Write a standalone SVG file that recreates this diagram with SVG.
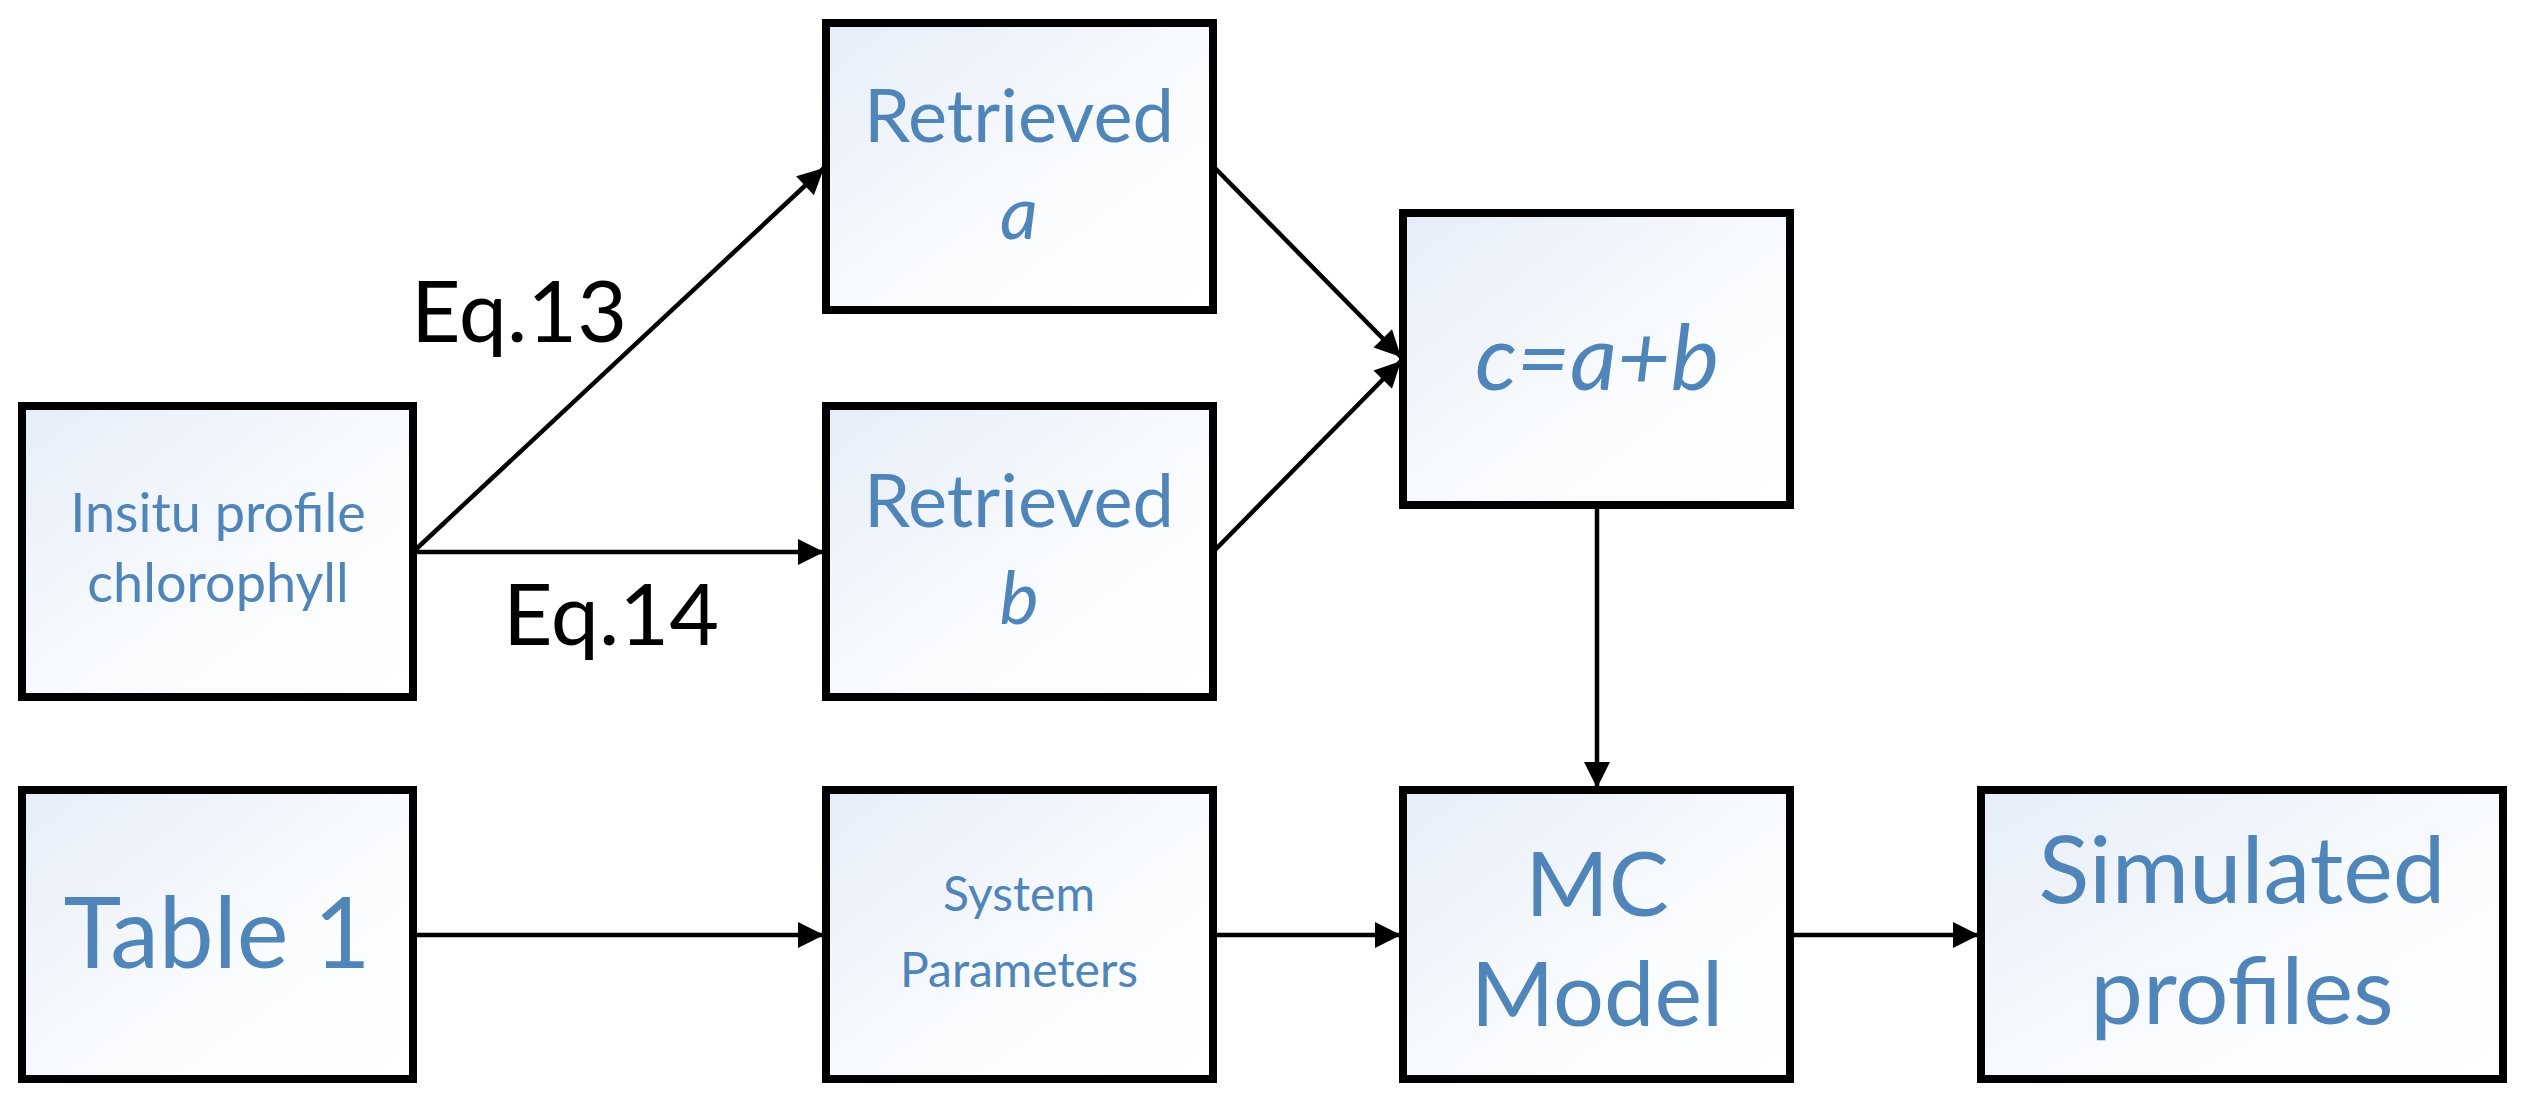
<svg xmlns="http://www.w3.org/2000/svg" width="2529" height="1102" viewBox="0 0 2529 1102">
<style>
.box{fill:url(#g);stroke:#000;stroke-width:8}
.t{font-family:Lato,"Open Sans",sans-serif;fill:#4f85b9;text-anchor:middle}
.i{font-style:italic}
.e{font-family:Lato,"Open Sans",sans-serif;fill:#000;font-size:86px}
.c{stroke:#000;stroke-width:4.5;fill:none;marker-end:url(#ah)}
</style>
<defs>
<linearGradient id="g" x1="0" y1="0" x2="1" y2="1"><stop offset="0" stop-color="#e6edf8"/><stop offset="0.6" stop-color="#fafcfe"/><stop offset="1" stop-color="#ffffff"/></linearGradient>
<marker id="ah" viewBox="0 0 10 10" refX="10" refY="5" markerWidth="40" markerHeight="26" markerUnits="userSpaceOnUse" orient="auto"><path d="M0,0 L10,5 L0,10 z" fill="#000"/></marker>
</defs>
<g id="connectors">
<line class="c" x1="413" y1="552" x2="824" y2="168"/>
<line class="c" x1="413" y1="552" x2="824" y2="552"/>
<line class="c" x1="1213" y1="166" x2="1401" y2="357"/>
<line class="c" x1="1213" y1="552" x2="1401" y2="361"/>
<line class="c" x1="1597" y1="505" x2="1597" y2="788"/>
<line class="c" x1="413" y1="935" x2="824" y2="935"/>
<line class="c" x1="1213" y1="935" x2="1401" y2="935"/>
<line class="c" x1="1790" y1="935" x2="1979" y2="935"/>
<text class="e" x="411" y="342">Eq.13</text>
<text class="e" x="503" y="645">Eq.14</text>
</g>
<g id="insitu"><rect class="box" x="22" y="406" width="391" height="291"/><text class="t" x="218" y="532" font-size="54">Insitu profile</text><text class="t" x="218" y="602" font-size="54">chlorophyll</text></g>
<g id="reta"><rect class="box" x="826" y="23" width="387" height="287"/><text class="t" x="1019" y="142" font-size="74">Retrieved</text><text class="t i" x="1019" y="239" font-size="74">a</text></g>
<g id="retb"><rect class="box" x="826" y="406" width="387" height="291"/><text class="t" x="1019" y="527" font-size="74">Retrieved</text><text class="t i" x="1019" y="624" font-size="74">b</text></g>
<g id="c"><rect class="box" x="1403" y="213" width="387" height="292"/><text class="t i" x="1597" y="390" font-size="92">c=a+b</text></g>
<g id="table1"><rect class="box" x="22" y="790" width="391" height="289"/><text class="t" x="217" y="968" font-size="98">Table 1</text></g>
<g id="sys"><rect class="box" x="826" y="790" width="387" height="289"/><text class="t" x="1019" y="911" font-size="48">System</text><text class="t" x="1019" y="987" font-size="48">Parameters</text></g>
<g id="mc"><rect class="box" x="1403" y="790" width="387" height="289"/><text class="t" x="1597" y="916" font-size="90">MC</text><text class="t" x="1597" y="1026" font-size="90">Model</text></g>
<g id="sim"><rect class="box" x="1981" y="790" width="522" height="289"/><text class="t" x="2242" y="903" font-size="94">Simulated</text><text class="t" x="2242" y="1024" font-size="94">profiles</text></g>
</svg>
